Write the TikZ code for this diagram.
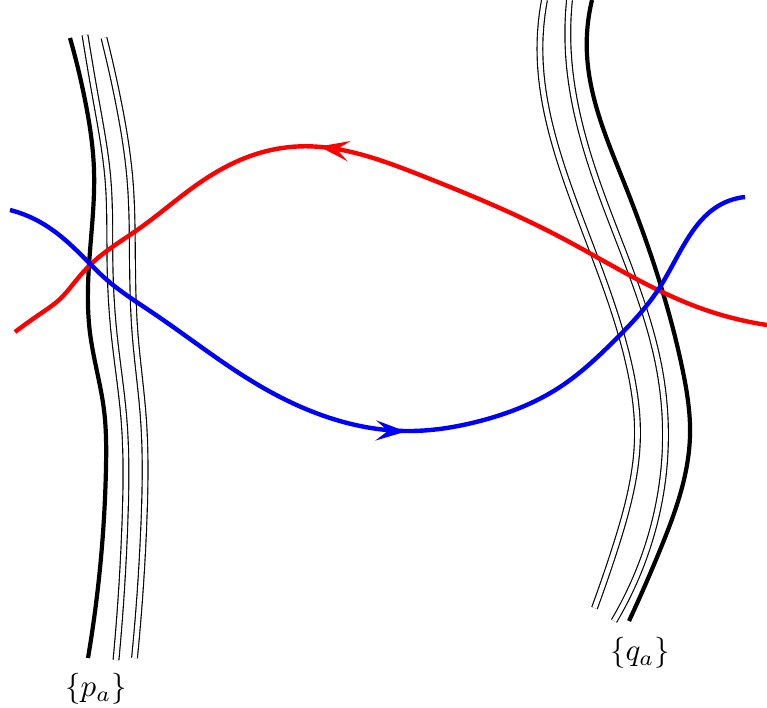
\documentclass[tikz,border=0pt]{standalone}
\usetikzlibrary{arrows.meta,hobby}
\tikzset{
  thickline/.style={line width=4.2pt, black, use Hobby shortcut},
  twoline/.style={double=white, double distance=4.6pt, line width=1.15pt, black, use Hobby shortcut},
  redcurve/.style={line width=4.4pt, red},
  bluecurve/.style={line width=4.4pt, blue},
  tip/.style={-{Stealth[length=30pt, width=20pt, inset=12pt]}},
  lab/.style={scale=3.1, inner sep=0pt}
}
\begin{document}
\begin{tikzpicture}[x=1pt,y=-1pt]
\useasboundingbox (0,0) rectangle (767,708);
% left family
\draw[thickline] (70,38) .. (85,100) .. (94,170) .. (89,265) .. (90,333) .. (104,410) .. (106,467) .. (88,658);
\draw[twoline] (85,35) .. (96,100) .. (108,180) .. (110,265) .. (114,333) .. (124,420) .. (125,520) .. (116,660);
\draw[twoline] (104,38) .. (118,100) .. (130,180) .. (132.5,265) .. (135,333) .. (143.5,420) .. (144,520) .. (134.5,658);
% right family
\draw[thickline] (592,0) .. (587,55) .. (625,185) .. (682,367) .. (690,435) .. (660,550) .. (629,621);
\draw[twoline] (544.5,0) .. (540,55) .. (568,185) .. (629.5,367) .. (637.5,435) .. (614.5,550) .. (594.5,608);
\draw[twoline] (569.5,0) .. (568.5,55) .. (598,185) .. (659,367) .. (665.5,435) .. (646.5,550) .. (614,621);
% red curve
\draw[redcurve, use Hobby shortcut] (15,332) .. (40,314) .. (60,299) .. (74,283) .. (89,266) .. (140,228) .. (195,186) .. (245,158) .. (297,146.5) .. (420,175) .. (560,237) .. (658,290) .. (700,308) .. (767,325);
\draw[redcurve, tip] (332,148.5) -- (319,146.5);
% blue curve
\draw[bluecurve, use Hobby shortcut] (10,210) .. (40,222) .. (73,247) .. (107,280) .. (153,313) .. (260,386) .. (405,431) .. (480,421) .. (560,387) .. (615,340) .. (658,290) .. (690,235) .. (715,208) .. (745,197);
\draw[bluecurve, tip] (392,431) -- (406,431.5);
% labels
\node[lab] (pa) at (96,689) {$\{p_a\}$};
\node[lab] (qa) at (640,653) {$\{q_a\}$};
\end{tikzpicture}
\end{document}
